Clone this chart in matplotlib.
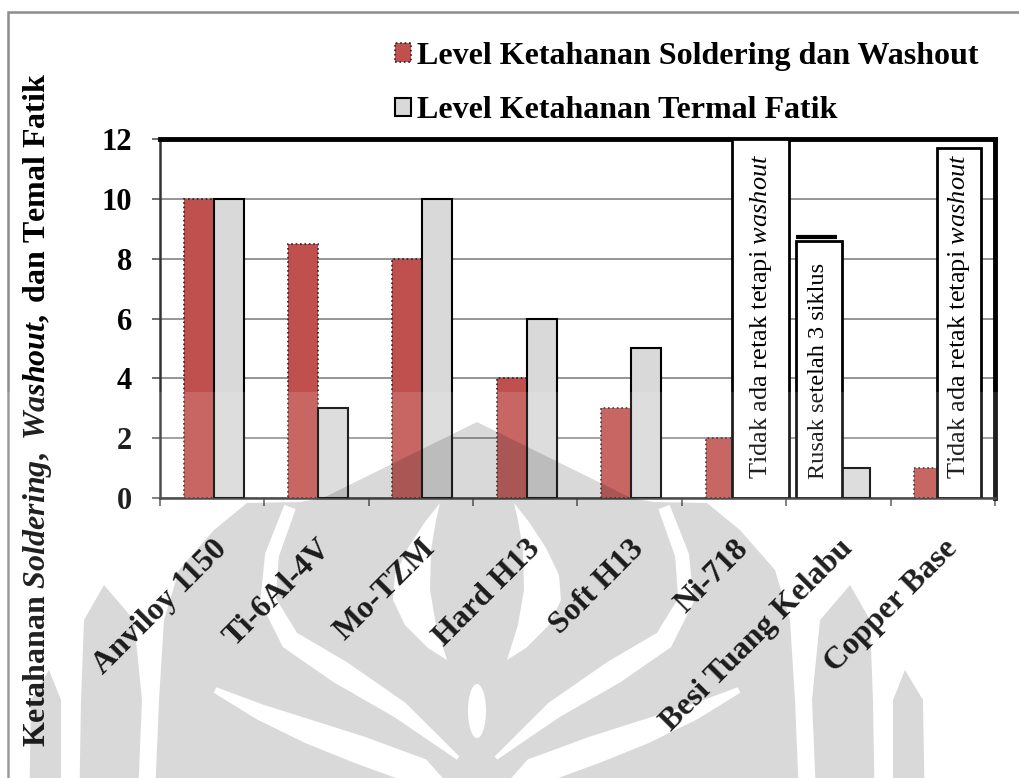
import matplotlib.pyplot as plt
from matplotlib.patches import Rectangle, PathPatch
from matplotlib.path import Path
import numpy as np

plt.rcParams['font.family'] = ['Liberation Serif', 'DejaVu Serif']
plt.rcParams['mathtext.fontset'] = 'custom'
plt.rcParams['mathtext.rm'] = 'Liberation Serif'
plt.rcParams['mathtext.it'] = 'Liberation Serif:italic'
plt.rcParams['mathtext.bf'] = 'Liberation Serif:bold'
plt.rcParams['mathtext.bfit'] = 'Liberation Serif:italic:bold'

materials = ['Anviloy 1150', 'Ti-6Al-4V', 'Mo-TZM', 'Hard H13', 'Soft H13',
             'Ni-718', 'Besi Tuang Kelabu', 'Copper Base']
soldering = [10, 8.5, 8, 4, 3, 2, 0, 1]
termal = [10, 3, 10, 6, 5, 0, 1, 0]

# notes drawn as tall boxes in place of missing bars
note_cat = [5, 6, 7]
note_height = [12, 8.6, 11.7]
note_text = [r'$\mathrm{Tidak\ ada\ retak\ tetapi\ }\mathit{washout}$',
             'Rusak setelah 3 siklus',
             r'$\mathrm{Tidak\ ada\ retak\ tetapi\ }\mathit{washout}$']

red = '#C0504D'
grey = '#D9D9D9'

W, H = 1020, 778
fig = plt.figure(figsize=(W / 100, H / 100), dpi=100)
ax = fig.add_axes([160/W, 1-498/H, 835/W, 359/H])

x = np.arange(len(materials))
w = 0.287
ax.bar(x - 0.13, soldering, w, color=red, edgecolor='#222222', linestyle=':',
       linewidth=1.2, label='Level Ketahanan Soldering dan Washout', zorder=3)
ax.bar(x + 0.157, termal, w, color=grey, edgecolor='black', linewidth=1.5,
       label='Level Ketahanan Termal Fatik', zorder=3)

# box positions relative to the category centre
box_left = [-0.02, -0.41, -0.056]
box_right = [0.53, 0.03, 0.366]
box_font = [19, 17.5, 19]
for c, h, t, l, r, fs in zip(note_cat, note_height, note_text, box_left, box_right, box_font):
    ax.bar(c + l, h, r - l, align='edge', color='white', edgecolor='black',
           linewidth=2, zorder=4)
    ax.text(c + (l + r) / 2, 0.62, t, rotation=90, ha='center', va='bottom',
            fontsize=fs, zorder=5)
ax.hlines(8.72, 6 - 0.41, 6 - 0.01, color='black', linewidth=3, zorder=5)

ax.set_xlim(-0.5, 7.5)
ax.set_ylim(0, 12)
ax.set_yticks(range(0, 13, 2))
ax.set_yticklabels([str(v) for v in range(0, 13, 2)], fontsize=22, fontweight='bold')
ax.set_xticks(x)
ax.set_xticklabels(materials, rotation=45, ha='right', rotation_mode='anchor',
                   fontsize=23, fontweight='bold')
ax.set_xticks(np.arange(-0.5, 8.0, 1), minor=True)
ax.tick_params(axis='x', which='major', length=0, pad=26)
ax.tick_params(axis='x', which='minor', length=6, width=1.2, color='#555555')
ax.tick_params(axis='y', length=6, width=1.2, color='#555555', pad=14)

ax.set_axisbelow(True)
ax.yaxis.grid(True, color='#8c8c8c', linewidth=1.3)
for side in ['top', 'right']:
    ax.spines[side].set_linewidth(3.5)
    ax.spines[side].set_color('black')
for side in ['left', 'bottom']:
    ax.spines[side].set_linewidth(1.8)
    ax.spines[side].set_color('#333333')

fig.legend(loc='upper left', bbox_to_anchor=(366/W, 1-13/H), frameon=False,
           prop={'weight': 'bold', 'size': 23},
           handlelength=0.5, handleheight=0.5, handletextpad=0.2,
           labelspacing=0.8)

fig.text(38/W, 1-410/H,
         r'$\mathbf{Ketahanan\ }\mathbfit{Soldering}\mathbf{,\ }\mathbfit{Washout}'
         r'\mathbf{,\ dan\ Temal\ Fatik}$',
         rotation=90, ha='center', va='center', fontsize=23)

fig.patches.append(Rectangle((8/W, -0.1), 1.2, 1.1 - 12/H, transform=fig.transFigure,
                             fill=False, edgecolor='#8c8c8c', linewidth=1.8))


# faint lotus emblem in the lower half, pixel coordinates from the top-left
def to_fig(pts):
    p = np.asarray(pts, float)
    return np.column_stack([p[:, 0] / W, 1 - p[:, 1] / H])


def area(p):
    return 0.5 * np.sum(p[:, 0] * np.roll(p[:, 1], -1) - np.roll(p[:, 0], -1) * p[:, 1])


def strip(pts, hw):
    p = np.asarray(pts, float)
    hw = np.asarray(hw, float)[:, None]
    d = np.gradient(p, axis=0)
    n = np.column_stack([-d[:, 1], d[:, 0]])
    n /= np.linalg.norm(n, axis=1)[:, None]
    return np.vstack([p + n * hw, (p - n * hw)[::-1]])


def mirror(pts, x0=477):
    return [(2 * x0 - px, py) for px, py in pts]


outer = [(477, 422), (400, 460), (323, 498), (300, 502), (247, 503), (214, 530),
         (179, 570), (164, 620), (159, 700), (154, 820), (800, 820), (795, 700),
         (790, 620), (775, 570), (740, 530), (707, 503), (654, 502), (631, 498),
         (554, 460)]
petal3 = [(817, 820), (812, 700), (820, 620), (850, 585), (870, 620), (873, 700), (875, 820)]
petal4 = [(893, 820), (893, 700), (905, 670), (923, 700), (925, 820)]
solids = [outer, petal3, petal4, mirror(petal3), mirror(petal4)]

band1 = [(290, 507), (272, 555), (268, 600), (290, 640), (340, 672), (400, 710), (458, 758)]
band1_hw = [6, 7, 8, 10, 12, 9, 2]
band0 = [(215, 690), (260, 712), (310, 732), (360, 750), (420, 772), (440, 790)]
band0_hw = [3, 8, 12, 14, 14, 10]
crescent = [(440, 503), (425, 522), (408, 548), (395, 575), (393, 600), (405, 625),
            (428, 648), (447, 660), (436, 625), (430, 590), (431, 550), (436, 520)]
t = np.linspace(0, 2 * np.pi, 40)
drop = np.column_stack([477 + 9 * np.cos(t), 711 + 27 * np.sin(t)])
holes = [strip(band1, band1_hw), strip(mirror(band1), band1_hw),
         strip(band0, band0_hw), strip(mirror(band0), band0_hw),
         crescent, mirror(crescent), drop]

verts, codes = [], []
for shape in solids + holes:
    p = to_fig(shape)
    want_pos = any(shape is s for s in solids)
    if (area(p) > 0) != want_pos:
        p = p[::-1]
    verts.extend(list(p) + [p[0]])
    codes.extend([Path.MOVETO] + [Path.LINETO] * (len(p) - 1) + [Path.CLOSEPOLY])

fig.patches.append(Rectangle((0, 0), 1, 1 - 392/H, transform=fig.transFigure,
                             facecolor='white', alpha=0.13, edgecolor='none', zorder=10))
fig.patches.append(PathPatch(Path(verts, codes), transform=fig.transFigure,
                             facecolor='black', alpha=0.15, edgecolor='none', zorder=11))

fig.savefig('out.png', dpi=100)
